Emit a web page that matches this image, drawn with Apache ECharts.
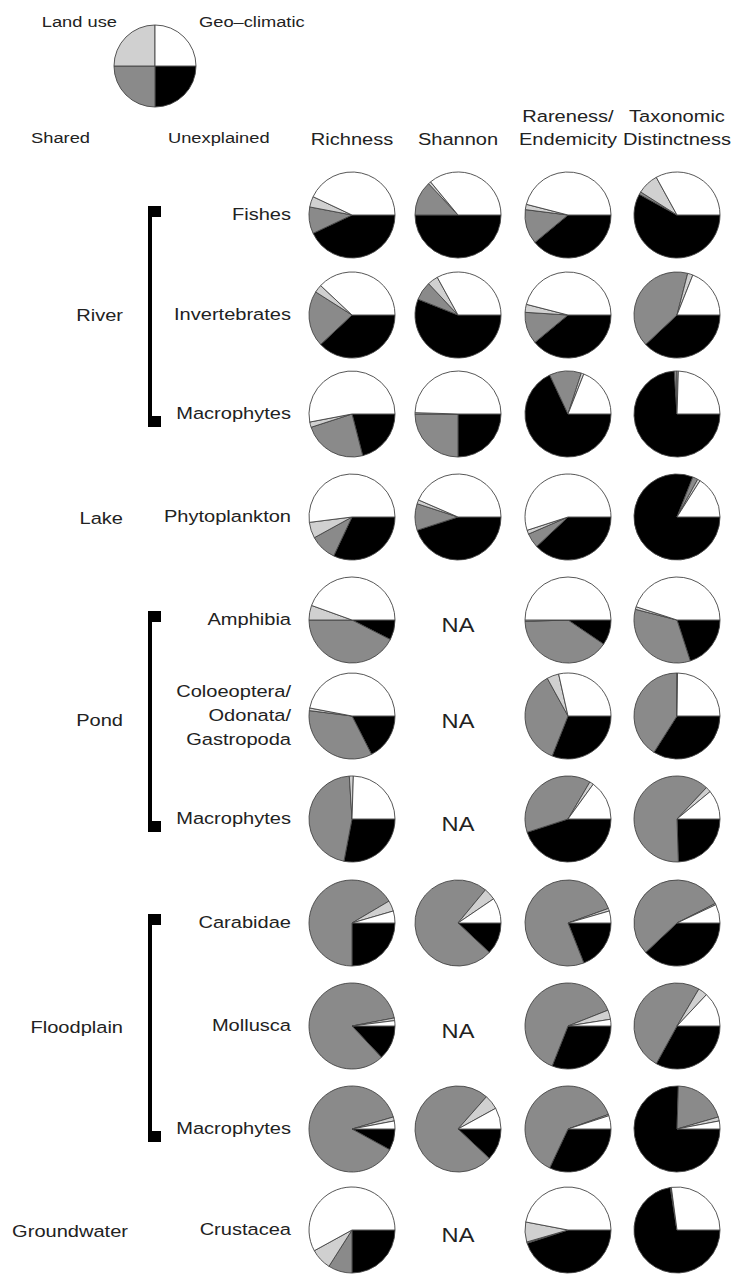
<!DOCTYPE html>
<html>
<head>
<meta charset="utf-8">
<script src="https://cdn.jsdelivr.net/npm/echarts@6/dist/echarts.min.js"></script>
<style>html,body{margin:0;padding:0;background:#fff}#main{width:732px;height:1274px}</style>
</head>
<body>
<div id="main"></div>
<script>
// ---------- DATA ----------
const componentNames = ['Unexplained', 'Shared', 'Land use', 'Geo\u2013climatic'];
const metricLabels = ['Richness', 'Shannon', 'Rareness/\nEndemicity', 'Taxonomic\nDistinctness'];
const rowLabels = ['Fishes', 'Invertebrates', 'Macrophytes', 'Phytoplankton', 'Amphibia',
  'Coloeoptera/\nOdonata/\nGastropoda', 'Macrophytes', 'Carabidae', 'Mollusca', 'Macrophytes', 'Crustacea'];
const habitatLabels = ['River', 'Lake', 'Pond', 'Floodplain', 'Groundwater'];
const habitatFirstRow = [0, 3, 4, 7, 10];
const habitatLastRow = [2, 3, 6, 9, 10];
// values: [Unexplained, Shared, Land use, Geo-climatic] (% of variance); null = NA
const richness = [[43,10,4,43],[38,21,3,38],[21,24,2,53],[32,10,6,52],[7.5,42.5,5.5,44.5],[17.5,34.5,1,47],[28,46,1.5,24.5],[25,66.5,4,4.5],[13,84,1,2],[8,87.5,1.5,3],[25,9,8,58]];
const shannon = [[50,13,1,36],[56,7,4,33],[25,25,0.5,49.5],[45,10,1.5,43.5],null,null,null,[12,74,4.5,9.5],null,[12,74.5,5.5,8],null];
const rareness = [[39,13,2,46],[39,12,3,46],[68,12,1,19],[38,5.5,1.5,55],[9.5,40,0.5,50],[31,36,4.5,28.5],[45,38.5,1.5,15],[19,75.5,1,4.5],[31,63,3.5,2.5],[32,62.5,0.5,5],[45,0.5,7.5,47]];
const taxDistinct = [[58,1,8,33],[38,41,2,19],[74,1,0.5,24.5],[81,2,1,16],[20,34,1,45],[34,41,0.2,24.8],[24.5,62.5,2,11],[38,54.5,0.5,7],[33,50.5,3.5,13],[75.5,20,1.5,3],[72.5,0.2,0.2,27.1]];
const legendValues = [25, 25, 25, 25];
const metricData = [richness, shannon, rareness, taxDistinct];

// ---------- LAYOUT / STYLE ----------
const colX = [352, 458, 568, 677];
const rowY = [215, 315, 414, 517, 620, 716, 819, 923, 1026, 1129, 1230];
const pieR = 43;
const sliceColors = ['#000000', '#8a8a8a', '#d0d0d0', '#ffffff'];
const FONT = 'Liberation Sans';
const TXT = '#222';
const WIDEN = 1.18;

const chart = echarts.init(document.getElementById('main'), null, {renderer: 'svg', width: 732, height: 1274});

function pieSeries(values, cx, cy, r) {
  return {
    type: 'pie', silent: true, animation: false,
    center: [cx, cy], radius: r,
    startAngle: 0, clockwise: true,
    avoidLabelOverlap: false, minAngle: 0,
    label: {show: false}, labelLine: {show: false},
    emphasis: {disabled: true},
    itemStyle: {borderColor: '#444', borderWidth: 0.9},
    data: values.map((v, i) => ({name: componentNames[i], value: v, itemStyle: {color: sliceColors[i]}}))
  };
}

const series = [];
const graphics = [];
const textEl = (x, y, text, align, vAlign, size, lh) => ({
  type: 'text', x: x, y: y, scaleX: WIDEN, silent: true,
  style: {text: text, fill: TXT, font: (size || 17) + 'px "' + FONT + '"', align: align || 'center', verticalAlign: vAlign || 'middle', lineHeight: lh || 24}
});

// legend pie
series.push(pieSeries(legendValues, 155, 66, 41));
graphics.push(textEl(117, 22, 'Land use', 'right', 'middle', 15.5));
graphics.push(textEl(199, 22, 'Geo\u2013climatic', 'left', 'middle', 15.5));
graphics.push(textEl(90, 138, 'Shared', 'right', 'middle', 15.5));
graphics.push(textEl(168, 138, 'Unexplained', 'left', 'middle', 15.5));

// column headers
metricLabels.forEach((m, c) => graphics.push(textEl(colX[c], 151, m, 'center', 'bottom', 17, 23)));

// grid of pies
metricData.forEach((arr, c) => {
  arr.forEach((vals, r) => {
    if (vals) series.push(pieSeries(vals, colX[c], rowY[r], pieR));
    else graphics.push(textEl(colX[c], rowY[r] + 5, 'NA', 'center', 'middle', 20));
  });
});

// row labels
rowLabels.forEach((t, r) => graphics.push(textEl(291, rowY[r] - 1, t, 'right')));

// habitat labels + brackets
habitatLabels.forEach((h, i) => {
  const r0 = habitatFirstRow[i], r1 = habitatLastRow[i];
  const ymid = (rowY[r0] + rowY[r1]) / 2;
  graphics.push(textEl(h === 'Groundwater' ? 128 : 123, ymid + 1, h, 'right'));
  if (r1 > r0) {
    const top = rowY[r0] - 4, bot = rowY[r1] + 8;
    graphics.push({type: 'rect', silent: true, shape: {x: 148, y: top, width: 4, height: bot - top}, style: {fill: '#000'}});
    graphics.push({type: 'rect', silent: true, shape: {x: 148, y: top - 5, width: 13, height: 11}, style: {fill: '#000'}});
    graphics.push({type: 'rect', silent: true, shape: {x: 148, y: bot - 6, width: 13, height: 11}, style: {fill: '#000'}});
  }
});

chart.setOption({
  backgroundColor: '#fff',
  animation: false,
  series: series,
  graphic: {elements: graphics}
});
</script>
</body>
</html>
